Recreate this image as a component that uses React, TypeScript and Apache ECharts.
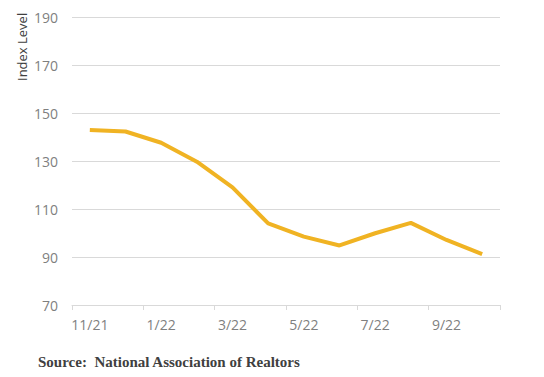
import React, { useEffect, useRef } from "react";
import * as echarts from "echarts";

const categories = ["11/21", "12/21", "1/22", "2/22", "3/22", "4/22", "5/22", "6/22", "7/22", "8/22", "9/22", "10/22"];
const indexValues = [142.9, 142.3, 137.6, 129.7, 119.0, 104.0, 98.5, 94.8, 99.9, 104.2, 97.1, 91.2];
const yTicks = { min: 70, max: 190, interval: 20 };
const axisTitle = "Index Level";
const sourceText = "Source:  National Association of Realtors";

export default function App() {
  const ref = useRef<HTMLDivElement>(null);
  useEffect(() => {
    if (!ref.current) return;
    const chart = echarts.init(ref.current, null, { renderer: "svg" });
    const font = "'Open Sans', 'Noto Sans', sans-serif";
    chart.setOption({
      animation: false,
      grid: { left: 72, right: 44, top: 17, bottom: 72 },
      xAxis: {
        type: "category",
        data: categories,
        boundaryGap: true,
        axisLine: { lineStyle: { color: "#d9d9d9", width: 1 } },
        axisTick: { show: true, interval: 1, length: 5, lineStyle: { color: "#d9d9d9" } },
        axisLabel: { interval: 1, color: "#7f7f7f", fontSize: 14, fontFamily: font, margin: 12 },
      },
      yAxis: {
        type: "value",
        min: yTicks.min,
        max: yTicks.max,
        interval: yTicks.interval,
        axisLine: { show: false },
        axisTick: { show: false },
        splitLine: { lineStyle: { color: "#d9d9d9", width: 1 } },
        axisLabel: { color: "#7f7f7f", fontSize: 14, fontFamily: font, margin: 14 },
      },
      graphic: [
        {
          type: "text",
          x: 22,
          y: 81,
          rotation: Math.PI / 2,
          style: {
            text: axisTitle,
            fill: "#404040",
            fontSize: 13,
            fontFamily: font,
            textAlign: "left",
            textVerticalAlign: "middle",
          },
        },
        {
          type: "text",
          x: 38,
          y: 362,
          style: {
            text: sourceText,
            fill: "#404040",
            fontSize: 15,
            fontWeight: "bold",
            fontFamily: "'Liberation Serif', serif",
            textAlign: "left",
            textVerticalAlign: "middle",
          },
        },
      ],
      series: [
        {
          type: "line",
          data: indexValues,
          symbol: "none",
          lineStyle: { color: "#F0B323", width: 4 },
        },
      ],
    });
    return () => chart.dispose();
  }, []);
  return <div ref={ref} style={{ position: "absolute", left: 0, top: 0, width: 544, height: 377 }} />;
}
